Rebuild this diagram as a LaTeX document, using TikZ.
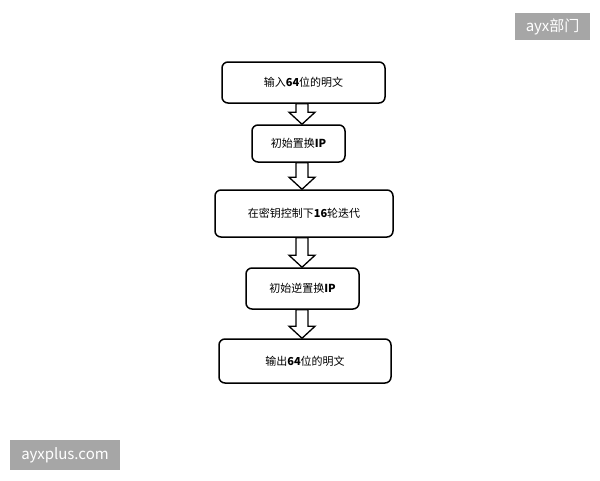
\documentclass[tikz,border=0pt]{standalone}
\usepackage{fontspec}
\setmainfont{Noto Sans CJK SC}
\usetikzlibrary{calc}
\definecolor{wmgray}{HTML}{A6A6A6}
\newcommand\lat[1]{{\bfseries #1}}
\newcommand\blkarrow[2]{%
  \draw[blockarrow] let \p1=(#1.south), \p2=(#2.north) in
    (296pt,\y1) -- (308pt,\y1) -- (308pt,\y2+12pt) -- (315pt,\y2+12pt) --
    (302pt,\y2) -- (289pt,\y2+12pt) -- (296pt,\y2+12pt) -- cycle;}
\begin{document}
\begin{tikzpicture}[x=1pt,y=1pt,
  box/.style={draw,line width=1.5pt,rounded corners=6pt,inner sep=0pt,
    font=\fontsize{11}{13}\selectfont},
  blockarrow/.style={draw,line width=1.3pt,fill=white,line join=miter},
  wm/.style={fill=wmgray,text=white,inner sep=0pt,
    font=\fontsize{15}{17}\selectfont}]
\useasboundingbox (0,0) rectangle (600,-480);
\node[box,minimum width=163pt,minimum height=41pt] (b1) at (303.5,-82.5) {输入\lat{64}位的明文};
\node[box,minimum width=93pt,minimum height=37pt] (b2) at (298.5,-143.5) {初始置换\lat{IP}};
\node[box,minimum width=178pt,minimum height=47pt] (b3) at (304,-213.5) {在密钥控制下\lat{16}轮迭代};
\node[box,minimum width=113pt,minimum height=41pt] (b4) at (302.5,-288.5) {初始逆置换\lat{IP}};
\node[box,minimum width=172pt,minimum height=44pt] (b5) at (305,-361) {输出\lat{64}位的明文};
\blkarrow{b1}{b2}
\blkarrow{b2}{b3}
\blkarrow{b3}{b4}
\blkarrow{b4}{b5}
\node[wm,minimum width=75pt,minimum height=27pt] (w1) at (552.5,-26.5) {ayx部门};
\node[wm,minimum width=110pt,minimum height=30pt] (w2) at (65,-455) {ayxplus.com};
\end{tikzpicture}
\end{document}
